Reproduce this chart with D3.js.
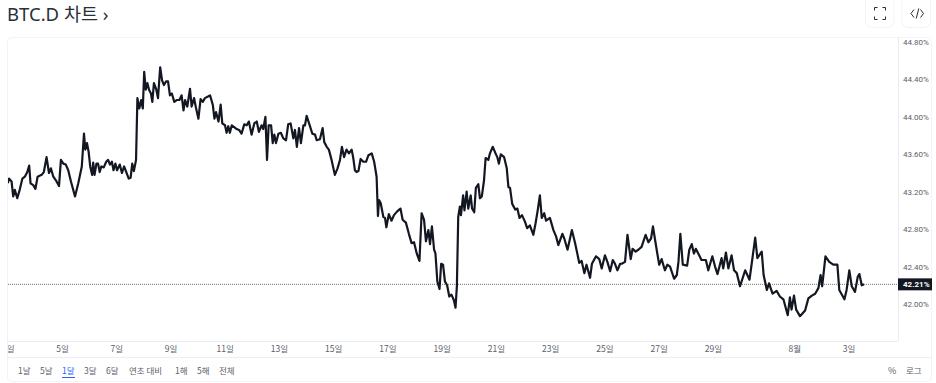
<!DOCTYPE html>
<html>
<head>
<meta charset="utf-8">
<script src="https://cdn.jsdelivr.net/npm/d3@7"></script>
<style>
  html, body { margin: 0; padding: 0; background: #fff; overflow: hidden; }
  svg { display: block; font-family: "Noto Sans CJK KR", Roboto, sans-serif; }
</style>
</head>
<body>
<svg id="chart" width="936" height="383"></svg>
<script>
// day of July (32 = Aug 1), dominance in %
const days = [
  3.00,3.05,3.14,3.20,3.26,3.35,3.44,3.54,3.63,3.72,3.79,3.84,3.94,4.02,4.10,4.25,4.33,4.43,4.52,4.59,4.68,4.80,4.89,4.96,5.05,5.14,5.23,5.33,5.48,5.60,5.73,5.81,5.86,5.92,5.98,
  6.04,6.11,6.15,6.20,6.27,6.33,6.39,6.45,6.54,6.63,6.70,6.77,6.84,6.90,6.97,7.03,7.13,7.21,7.29,7.37,7.46,7.53,7.59,7.65,7.73,
  7.78,7.85,7.92,7.98,8.03,8.09,8.15,8.21,8.28,8.33,8.39,8.47,8.54,8.62,8.69,8.76,8.84,8.91,8.98,9.05,9.14,9.23,9.33,9.41,9.48,9.54,9.62,9.72,9.78,9.87,9.93,
  10.03,10.11,10.19,10.27,10.40,10.46,10.56,10.62,10.68,10.77,10.85,10.91,
  11.01,11.07,11.13,11.19,11.26,11.35,11.44,11.53,11.62,11.72,11.81,11.89,11.99,12.09,12.18,12.26,12.36,12.42,12.50,12.56,12.62,12.71,12.77,12.83,12.89,12.98,
  13.07,13.16,13.26,13.34,13.43,13.53,13.59,13.66,13.74,13.81,13.90,13.96,14.02,14.11,14.23,14.33,14.39,14.51,14.61,14.67,14.76,14.84,14.94,
  15.06,15.16,15.25,15.32,15.40,15.49,15.58,15.68,15.74,15.80,15.86,15.93,16.01,16.11,16.21,16.30,16.42,16.51,16.60,16.65,16.69,16.75,16.85,16.91,
  16.96,17.05,17.15,17.24,17.36,17.48,17.56,17.68,17.79,17.89,17.98,18.08,18.18,18.26,18.35,18.42,18.51,18.57,18.64,18.72,18.77,18.84,18.92,
  18.98,19.05,19.12,19.20,19.28,19.36,19.45,19.51,19.56,19.61,19.67,19.71,19.79,19.84,19.92,19.98,20.07,20.12,20.20,20.26,20.35,20.41,20.48,20.56,20.62,20.72,20.78,20.88,20.97,21.05,21.11,21.18,21.30,21.40,21.46,21.52,21.60,21.71,21.79,21.87,
  21.96,22.07,22.15,22.25,22.38,22.46,22.54,22.62,22.69,22.78,22.85,22.99,23.12,23.22,23.30,23.45,23.52,23.64,23.80,23.92,
  24.00,24.07,24.16,24.26,24.34,24.47,24.54,24.69,24.81,24.90,25.02,25.11,25.21,25.31,25.39,25.48,25.58,
  25.64,25.76,25.85,25.97,26.04,26.15,26.25,26.37,26.52,26.62,26.72,26.79,26.86,26.95,27.02,27.11,27.23,27.32,27.42,27.57,27.67,27.73,27.80,27.89,
  28.05,28.13,28.22,28.30,28.37,28.46,28.58,28.74,28.83,28.98,29.08,29.17,29.32,29.38,29.48,29.57,29.69,29.78,29.88,30.00,30.19,30.35,30.43,30.56,30.64,30.80,30.87,30.99,
  31.07,31.20,31.35,31.47,31.60,31.76,31.84,31.90,31.99,32.07,32.21,32.40,32.52,32.65,32.77,32.89,
  32.97,33.03,33.15,33.29,33.44,33.59,33.66,33.85,33.93,34.03,34.12,34.24,34.34,34.40,34.49,34.57
];
const dominance = [
  43.29,43.34,43.31,43.15,43.22,43.13,43.22,43.34,43.36,43.41,43.48,43.29,43.27,43.23,43.36,43.38,43.41,43.57,43.40,43.45,43.36,43.31,43.26,43.54,43.50,43.49,43.43,43.31,43.15,43.29,43.47,43.82,43.65,43.72,43.63,
  43.47,43.38,43.51,43.38,43.50,43.50,43.41,43.47,43.46,43.52,43.54,43.49,43.52,43.43,43.50,43.43,43.49,43.40,43.47,43.41,43.34,43.35,43.50,43.42,43.54,
  44.20,44.09,44.18,44.09,44.48,44.29,44.36,44.29,44.25,44.16,44.36,44.30,44.20,44.53,44.39,44.34,44.38,44.38,44.23,44.25,44.16,44.18,44.18,44.23,44.07,44.18,44.11,44.30,44.11,44.20,44.11,
  43.98,44.19,44.16,44.20,44.22,44.23,44.13,43.98,44.05,43.95,44.13,43.93,
  43.91,43.83,43.90,43.83,43.91,43.89,43.87,43.86,43.82,43.92,43.91,43.95,43.81,43.93,43.95,43.84,43.91,43.87,44.00,43.54,43.91,43.91,43.72,43.81,43.72,43.82,
  43.83,43.77,43.75,43.92,43.93,43.77,43.86,43.68,43.88,43.72,43.91,43.91,44.01,43.93,43.82,43.81,43.75,43.76,43.88,43.73,43.68,43.65,43.54,
  43.38,43.45,43.54,43.68,43.57,43.65,43.61,43.65,43.56,43.43,43.41,43.42,43.55,43.52,43.52,43.59,43.61,43.52,43.36,42.94,43.11,43.08,42.93,42.92,
  42.82,42.96,42.89,42.95,42.99,43.02,42.90,42.87,42.75,42.65,42.66,42.54,42.46,42.97,42.90,42.67,42.79,42.64,42.83,42.58,42.54,42.24,42.16,
  42.43,42.42,42.24,42.20,42.08,42.10,42.04,41.96,42.19,42.93,43.04,42.95,43.16,43.00,43.20,43.02,43.16,43.02,42.98,43.24,43.28,43.13,43.15,43.32,43.56,43.54,43.61,43.68,43.62,43.57,43.50,43.60,43.57,43.45,43.25,43.24,43.07,43.01,43.02,42.92,
  42.95,42.88,42.81,42.84,42.74,42.86,43.00,43.16,42.92,42.97,42.89,42.92,42.79,42.72,42.63,42.75,42.70,42.58,42.79,42.65,
  42.54,42.44,42.46,42.33,42.42,42.28,42.43,42.51,42.48,42.38,42.52,42.45,42.35,42.47,42.43,42.36,42.43,
  42.43,42.45,42.74,42.48,42.59,42.56,42.58,42.61,42.74,42.66,42.70,42.83,42.70,42.54,42.42,42.48,42.36,42.42,42.40,42.27,42.31,42.45,42.75,42.42,
  42.41,42.58,42.64,42.54,42.59,42.54,42.47,42.47,42.36,42.51,42.40,42.32,42.49,42.38,42.55,42.38,42.52,42.36,42.33,42.19,42.36,42.26,42.43,42.71,42.49,42.56,42.31,42.15,
  42.22,42.11,42.14,42.08,42.05,41.88,42.07,41.94,42.09,41.94,41.87,41.93,42.06,42.09,42.11,42.17,
  42.31,42.19,42.51,42.45,42.42,42.42,42.15,42.05,42.15,42.36,42.19,42.13,42.29,42.32,42.20,42.21
];
const tickDays = [3,5,7,9,11,13,15,17,19,21,23,25,27,29,32,34];
const tickLabels = ["3일","5일","7일","9일","11일","13일","15일","17일","19일","21일","23일","25일","27일","29일","8월","3일"];
const yTicks = [42.0,42.4,42.8,43.2,43.6,44.0,44.4,44.8];
const lastValue = 42.21;
const ranges = ["1날","5날","1달","3달","6달","연초 대비","1해","5해","전체"];

const svg = d3.select("#chart");
const plot = { left: 7, right: 898, top: 37, bottom: 341 };

const x = d3.scaleLinear().domain([5, 34]).range([62, 848.5]);
const y = d3.scaleLinear().domain([42, 44.8]).range([304, 42]);

// title
svg.append("text").attr("x", 7).attr("y", 20.5)
  .attr("font-family", '"Noto Sans", "Noto Sans CJK KR", sans-serif')
  .attr("font-size", 18.5).attr("fill", "#2a2e39").text("BTC.D 차트 ›");

// outer card and plot frame
svg.append("rect").attr("x", 7.5).attr("y", 37.5).attr("width", 924).attr("height", 344)
  .attr("rx", 4).attr("fill", "#fff").attr("stroke", "#f0f3fa");
svg.append("line").attr("x1", plot.right + 0.5).attr("x2", plot.right + 0.5)
  .attr("y1", plot.top).attr("y2", plot.bottom).attr("stroke", "#e9ebf0");
svg.append("line").attr("x1", plot.left).attr("x2", plot.right)
  .attr("y1", plot.bottom + 0.5).attr("y2", plot.bottom + 0.5).attr("stroke", "#e9ebf0");
svg.append("line").attr("x1", plot.left).attr("x2", 932)
  .attr("y1", 357.5).attr("y2", 357.5).attr("stroke", "#eceef3");

svg.append("clipPath").attr("id", "plot-clip").append("rect")
  .attr("x", plot.left + 1).attr("y", plot.top).attr("width", plot.right - plot.left)
  .attr("height", 346 - plot.top + 20);

// x axis
const xAxis = svg.append("g")
  .attr("clip-path", "url(#plot-clip)");
const xAxisInner = xAxis.append("g")
  .attr("transform", `translate(0,${plot.bottom})`)
  .call(d3.axisBottom(x).tickValues(tickDays).tickFormat((d, i) => tickLabels[i]).tickSize(0).tickPadding(5));
xAxisInner.select(".domain").remove();
xAxisInner.selectAll("text").attr("font-size", 8.5).attr("fill", "#5d606b")
  .attr("font-family", '"Noto Sans CJK KR", sans-serif');

// y axis
const yAxis = svg.append("g")
  .attr("transform", `translate(${plot.right},0)`)
  .call(d3.axisRight(y).tickValues(yTicks).tickFormat(d => d.toFixed(2) + "%").tickSize(0).tickPadding(5));
yAxis.select(".domain").remove();
yAxis.selectAll("text").attr("font-size", 8).attr("fill", "#5d606b")
  .attr("font-family", 'Roboto, sans-serif');

// last value line
svg.append("line").attr("x1", plot.left + 1).attr("x2", plot.right)
  .attr("y1", y(lastValue)).attr("y2", y(lastValue))
  .attr("stroke", "#50535e").attr("stroke-width", 0.8).attr("stroke-dasharray", "1 1");

// series
const points = d3.zip(days, dominance);
const line = d3.line().x(d => x(d[0])).y(d => y(d[1]));
svg.append("path").datum(points)
  .attr("clip-path", "url(#plot-clip)")
  .attr("d", line)
  .attr("fill", "none")
  .attr("stroke", "#131722")
  .attr("stroke-width", 2.2)
  .attr("stroke-linejoin", "round");

// last value tag
svg.append("rect").attr("x", plot.right).attr("y", y(lastValue) - 6)
  .attr("width", 34).attr("height", 12).attr("fill", "#131722");
svg.append("text").attr("x", plot.right + 5).attr("y", y(lastValue) + 3)
  .attr("font-size", 8).attr("font-weight", 700).attr("fill", "#fff")
  .attr("font-family", "Roboto, sans-serif").text(lastValue.toFixed(2) + "%");

// range buttons
const rangeX = [18, 40, 62, 84, 106, 129, 175, 197, 219];
svg.append("g").selectAll("text").data(ranges).join("text")
  .attr("x", (d, i) => rangeX[i]).attr("y", 373.5)
  .attr("font-size", 8.5)
  .attr("fill", d => d === "1달" ? "#2962ff" : "#5d606b")
  .text(d => d);
svg.append("line").attr("x1", 62).attr("x2", 75).attr("y1", 377.5).attr("y2", 377.5)
  .attr("stroke", "#2962ff").attr("stroke-width", 1);
svg.append("text").attr("x", 888).attr("y", 373.5).attr("font-size", 9).attr("fill", "#5d606b").text("%");
svg.append("text").attr("x", 906).attr("y", 373.5).attr("font-size", 8.5).attr("fill", "#5d606b").text("로그");

// top-right buttons
const btn = svg.append("g");
[[866, 0], [902.5, 0]].forEach(([bx, by]) => {
  btn.append("rect").attr("x", bx - 0.5).attr("y", by - 3).attr("width", 28.5).attr("height", 30.5)
    .attr("rx", 6).attr("fill", "#fff").attr("stroke", "#f0f3fa");
});
btn.append("path")
  .attr("d", "M874.5 10.5v-3h3 M882.5 7.5h3v3 M885.5 16.5v3h-3 M877.5 19.5h-3v-3")
  .attr("fill", "none").attr("stroke", "#2a2e39").attr("stroke-width", 1);
btn.append("path")
  .attr("d", "M914 9.5l-3 4 3 4 M920.5 9.5l3 4 -3 4 M918.8 8.5l-2.6 10")
  .attr("fill", "none").attr("stroke", "#2a2e39").attr("stroke-width", 1);
</script>
</body>
</html>
